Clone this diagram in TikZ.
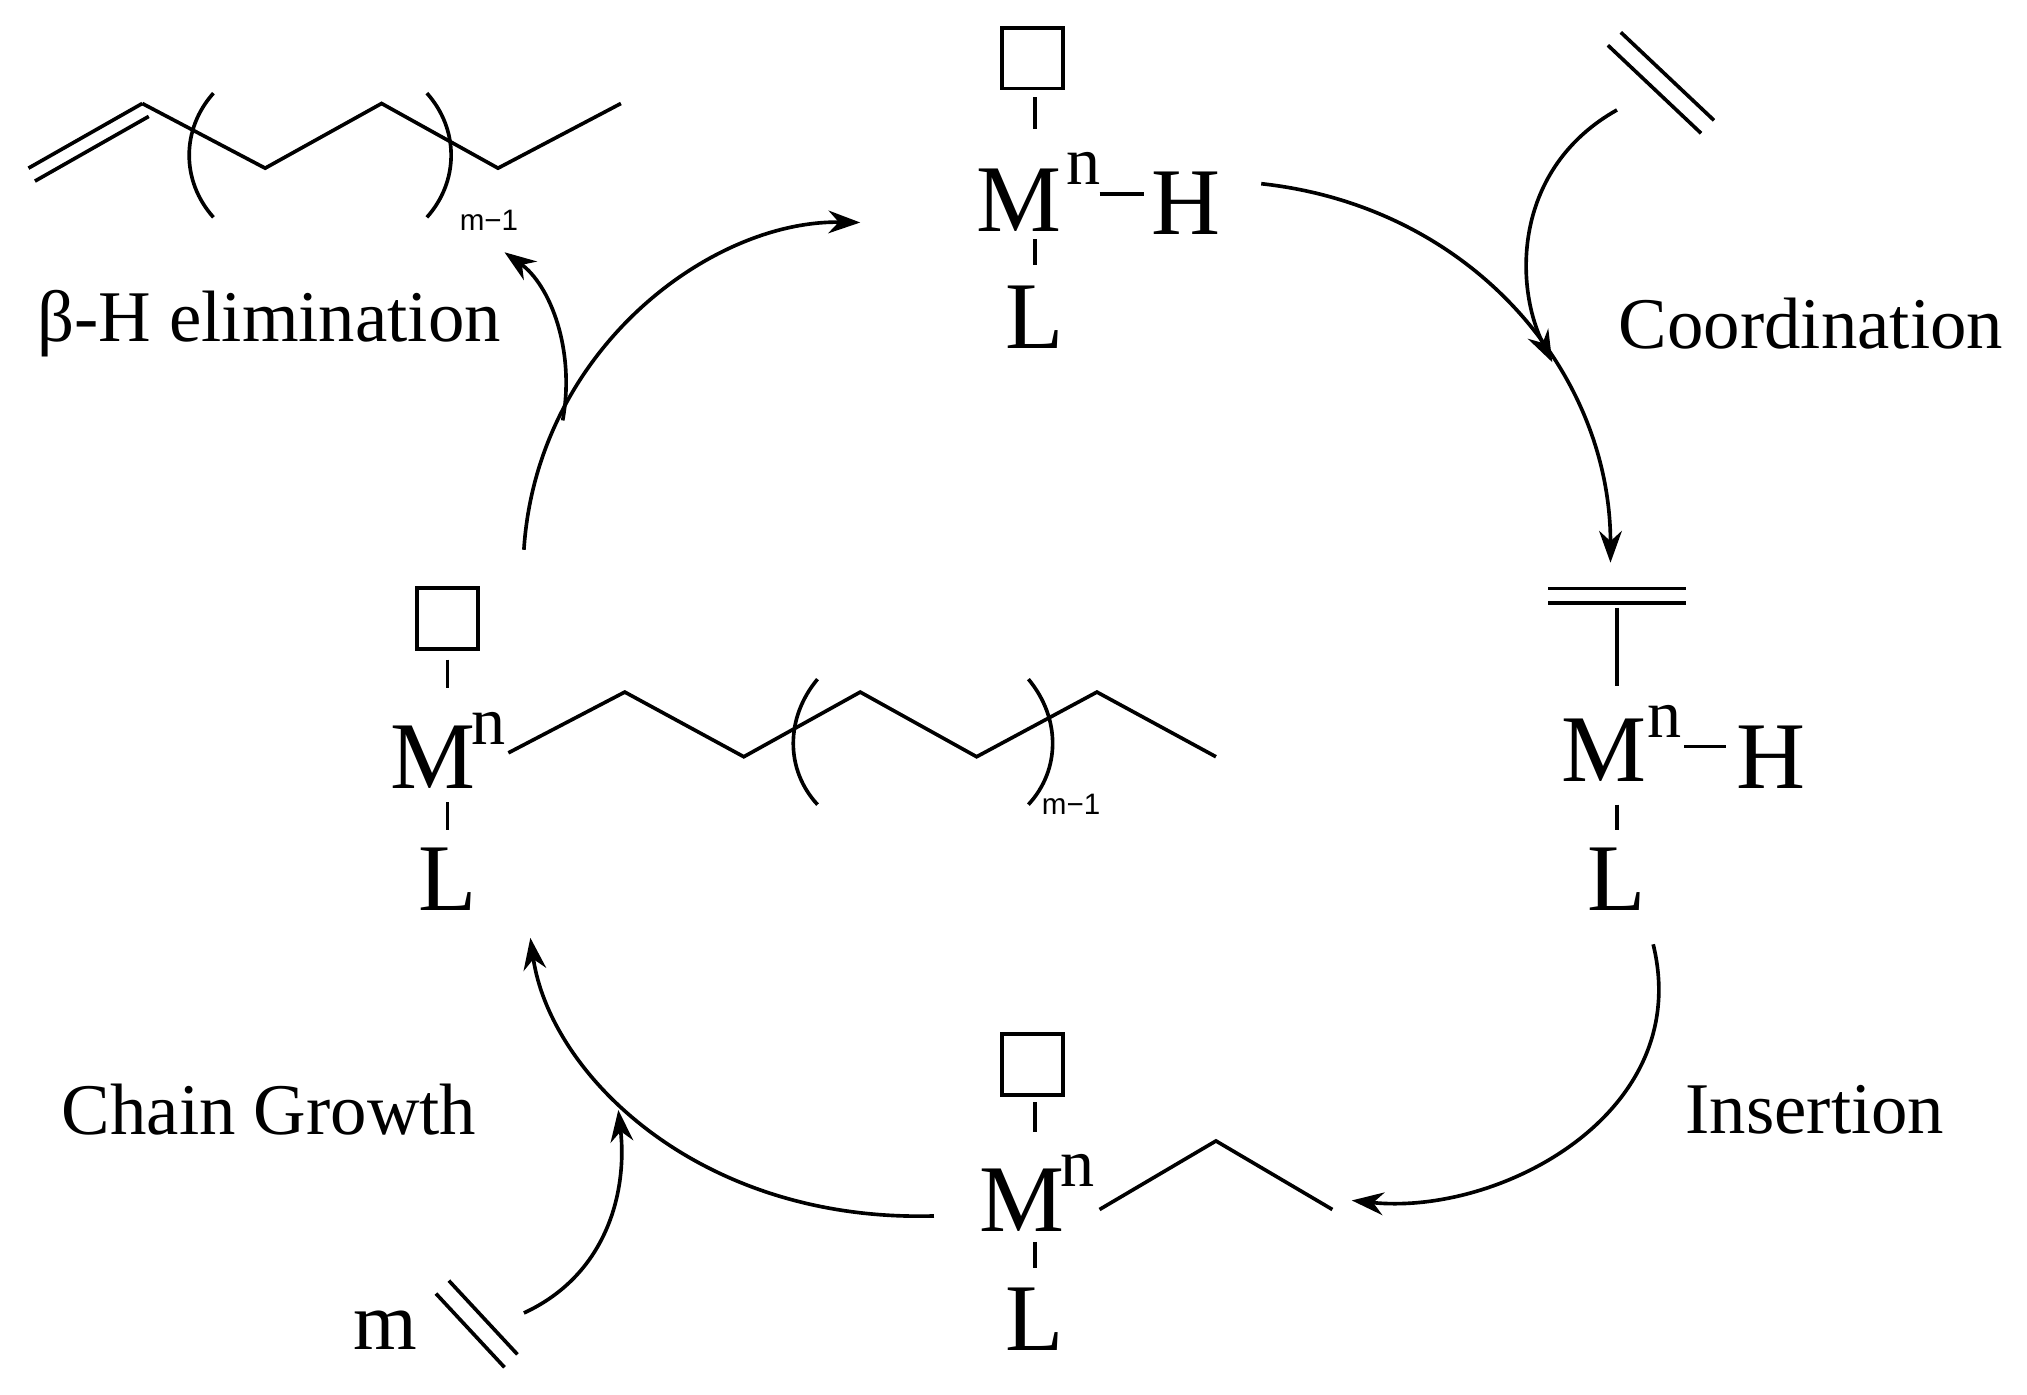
\documentclass[tikz,border=0pt]{standalone}
\usepackage{fontspec}
\setmainfont{Liberation Serif}
\newfontfamily\subfont{Liberation Sans}
\usetikzlibrary{arrows.meta}
\begin{document}
\begin{tikzpicture}[x=0.01cm,y=-0.01cm,line width=0.8pt,
 lbl/.style={font=\fontsize{16}{18}\selectfont,inner sep=0},
 atom/.style={font=\fontsize{21}{24}\selectfont,inner sep=0},
 sup/.style={font=\fontsize{15}{17}\selectfont,inner sep=0},
 sub/.style={font=\subfont\fontsize{6.5}{8}\selectfont,inner sep=0},
 vac/.style={draw,minimum size=0.47cm,inner sep=0},
 arr/.style={-{Stealth[length=7pt,width=5pt]},line width=0.8pt}]
\useasboundingbox (0,0) rectangle (1567,1078);
% top complex
\node[vac] (b1) at (798,45) {};
\coordinate (b1a) at (800,75); \coordinate (b1b) at (800,100);
\draw (b1a) -- (b1b);
\node[atom] (m1) at (788,155) {M};
\node[sup] (n1) at (838,130) {n};
\coordinate (h1a) at (850,150); \coordinate (h1b) at (884,150);
\draw (h1a) -- (h1b);
\node[atom] (h1) at (917,157) {H};
\coordinate (l1a) at (800,185); \coordinate (l1b) at (800,205);
\draw (l1a) -- (l1b);
\node[atom] (L1) at (800,245) {L};
% top left alkene
\coordinate (a0) at (22,130); \coordinate (a1) at (110,80);
\coordinate (a0b) at (27,140); \coordinate (a1b) at (115,90);
\draw (a0) -- (a1); \draw (a0b) -- (a1b);
\coordinate (a2) at (205,130); \coordinate (a3) at (295,80);
\coordinate (a4) at (385,130); \coordinate (a5) at (480,80);
\draw (a1) -- (a2) -- (a3) -- (a4) -- (a5);
\draw (165,72) .. controls (140,100) and (140,140) .. (165,168);
\draw (330,72) .. controls (355,100) and (355,140) .. (330,168);
\node[sub] (s1) at (378,170) {m\textminus1};
\node[lbl] (beta) at (208,250) {β-H elimination};
% ethylene top right
\coordinate (e1) at (1243,35); \coordinate (e2) at (1315,103);
\coordinate (e3) at (1253,25); \coordinate (e4) at (1325,93);
\draw (e1) -- (e2); \draw (e3) -- (e4);
\node[lbl] (coord) at (1400,250) {Coordination};
% right complex
\coordinate (d1) at (1197,455); \coordinate (d2) at (1303,455);
\coordinate (d3) at (1197,466); \coordinate (d4) at (1303,466);
\draw (d1) -- (d2); \draw (d3) -- (d4);
\coordinate (v2a) at (1250,470); \coordinate (v2b) at (1250,530);
\draw (v2a) -- (v2b);
\node[atom] (m2) at (1240,580) {M};
\node[sup] (n2) at (1287,558) {n};
\coordinate (h2a) at (1302,577); \coordinate (h2b) at (1334,577);
\draw (h2a) -- (h2b);
\node[atom] (h2) at (1369,585) {H};
\coordinate (l2a) at (1250,622); \coordinate (l2b) at (1250,642);
\draw (l2a) -- (l2b);
\node[atom] (L2) at (1250,680) {L};
\node[lbl] (ins) at (1403,858) {Insertion};
% bottom complex
\node[vac] (b3) at (798,823) {};
\coordinate (v3a) at (800,852); \coordinate (v3b) at (800,875);
\draw (v3a) -- (v3b);
\node[atom] (m3) at (790,928) {M};
\node[sup] (n3) at (833,905) {n};
\coordinate (c1) at (850,935); \coordinate (c2) at (940,882); \coordinate (c3) at (1030,935);
\draw (c1) -- (c2) -- (c3);
\coordinate (l3a) at (800,960); \coordinate (l3b) at (800,980);
\draw (l3a) -- (l3b);
\node[atom] (L3) at (800,1020) {L};
% left complex
\node[vac] (b4) at (346,478) {};
\coordinate (v4a) at (346,510); \coordinate (v4b) at (346,532);
\draw (v4a) -- (v4b);
\node[atom] (m4) at (335,585) {M};
\node[sup] (n4) at (378,563) {n};
\coordinate (p0) at (393,582); \coordinate (p1) at (483,535); \coordinate (p2) at (575,585);
\coordinate (p3) at (665,535); \coordinate (p4) at (755,585); \coordinate (p5) at (848,535);
\coordinate (p6) at (940,585);
\draw (p0) -- (p1) -- (p2) -- (p3) -- (p4) -- (p5) -- (p6);
\draw (632,525) .. controls (607,555) and (607,595) .. (632,622);
\draw (795,525) .. controls (820,555) and (820,595) .. (795,622);
\node[sub] (s2) at (828,622) {m\textminus1};
\coordinate (l4a) at (346,620); \coordinate (l4b) at (346,642);
\draw (l4a) -- (l4b);
\node[atom] (L4) at (346,680) {L};
\node[lbl] (cg) at (208,858) {Chain Growth};
% m ethylene
\node[lbl,font=\fontsize{18}{20}\selectfont] (mm) at (298,1028) {m};
\coordinate (f1) at (337,1000); \coordinate (f2) at (390,1057);
\coordinate (f3) at (347,990); \coordinate (f4) at (400,1047);
\draw (f1) -- (f2); \draw (f3) -- (f4);
% arrows
\coordinate (r1s) at (975,142); \coordinate (r1e) at (1245,435);
\draw[arr] (r1s) .. controls (1140,160) and (1245,290) .. (r1e);
\coordinate (r2s) at (1250,85); \coordinate (r2e) at (1200,280);
\draw[arr] (r2s) .. controls (1170,130) and (1170,220) .. (r2e);
\coordinate (r3s) at (1278,730); \coordinate (r3e) at (1045,928);
\draw[arr] (r3s) .. controls (1310,860) and (1160,940) .. (r3e);
\coordinate (r4s) at (722,940); \coordinate (r4e) at (410,725);
\draw[arr] (r4s) .. controls (540,945) and (425,830) .. (r4e);
\coordinate (r5s) at (405,1015); \coordinate (r5e) at (478,858);
\draw[arr] (r5s) .. controls (470,985) and (485,920) .. (r5e);
\coordinate (r6s) at (405,425); \coordinate (r6e) at (665,172);
\draw[arr] (r6s) .. controls (415,270) and (550,170) .. (r6e);
\coordinate (r7s) at (435,325); \coordinate (r7e) at (390,195);
\draw[arr] (r7s) .. controls (445,270) and (425,220) .. (r7e);
\end{tikzpicture}
\end{document}
